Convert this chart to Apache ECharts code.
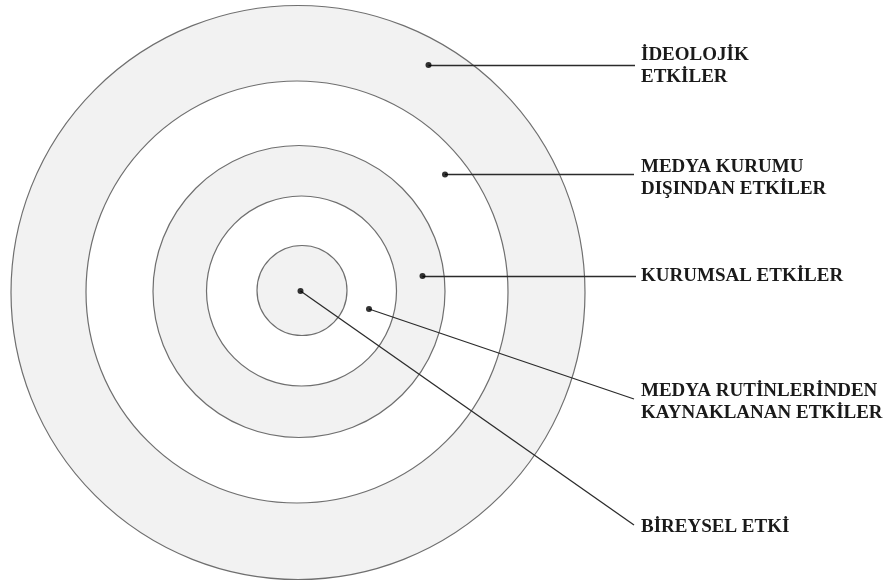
<!DOCTYPE html>
<html lang="tr">
<head>
  <meta charset="UTF-8">
  <title>Medya içeriğini etkileyen faktörler</title>
  <style>
    html, body { margin: 0; padding: 0; background: #fff; }
    #chart { width: 887px; height: 587px; }
  </style>
</head>
<body>
  <div id="chart"></div>
  <script src="https://cdn.jsdelivr.net/npm/echarts/dist/echarts.min.js"></script>
  <script>
    // halkalar (dıştan içe): merkez ve yarıçap
    const ringCx = [298, 297, 299, 301.5, 302];
    const ringCy = [292.5, 292, 291.5, 291, 290.5];
    const ringR = [287, 211, 146, 95, 45];

    // etiketler ve işaret noktaları
    const labels = [
      'İDEOLOJİK\nETKİLER',
      'MEDYA KURUMU\nDIŞINDAN ETKİLER',
      'KURUMSAL ETKİLER',
      'MEDYA RUTİNLERİNDEN\nKAYNAKLANAN ETKİLER',
      'BİREYSEL ETKİ'
    ];
    const dotX = [428.5, 445, 422.5, 369, 300.5];
    const dotY = [65, 174.5, 276, 309, 291];
    const lineEndX = [635, 634, 636, 634, 634];
    const lineEndY = [65, 174.5, 276, 399, 525];
    const labelX = [641, 641, 641, 641, 641];
    const labelY = [66, 178, 276, 402.5, 527];

    const chart = echarts.init(document.getElementById('chart'));

    const ringData = ringR.map((r, i) => [ringCx[i], ringCy[i], r, i]);
    const lineData = dotX.map((x, i) => ({ coords: [[x, dotY[i]], [lineEndX[i], lineEndY[i]]] }));
    const labelData = labels.map((t, i) => [labelX[i], labelY[i], t]);

    chart.setOption({
      animation: false,
      grid: { left: 0, right: 0, top: 0, bottom: 0 },
      xAxis: { type: 'value', min: 0, max: 887, show: false },
      yAxis: { type: 'value', min: 0, max: 587, inverse: true, show: false },
      series: [
        {
          type: 'custom',
          data: ringData,
          renderItem: function (params, api) {
            const c = api.coord([api.value(0), api.value(1)]);
            const r = api.size([api.value(2), 0])[0];
            return {
              type: 'circle',
              shape: { cx: c[0], cy: c[1], r: r },
              style: {
                fill: api.value(3) % 2 === 0 ? '#f2f2f2' : '#ffffff',
                stroke: '#6f6f6f',
                lineWidth: 1.2
              }
            };
          },
          z: 1
        },
        {
          type: 'lines',
          coordinateSystem: 'cartesian2d',
          data: lineData,
          lineStyle: { color: '#2b2b2b', width: 1.3, opacity: 1 },
          z: 2
        },
        {
          type: 'scatter',
          data: dotX.map((x, i) => [x, dotY[i]]),
          symbolSize: 6,
          itemStyle: { color: '#000' },
          z: 3
        },
        {
          type: 'custom',
          data: labelData,
          renderItem: function (params, api) {
            const p = api.coord([api.value(0), api.value(1)]);
            return {
              type: 'text',
              x: p[0],
              y: p[1],
              style: {
                text: labels[params.dataIndex],
                fill: '#1a1a1a',
                font: 'bold 19px "Liberation Serif", "DejaVu Serif", serif',
                lineHeight: 22,
                align: 'left',
                verticalAlign: 'middle'
              }
            };
          },
          z: 4
        }
      ]
    });
  </script>
</body>
</html>
